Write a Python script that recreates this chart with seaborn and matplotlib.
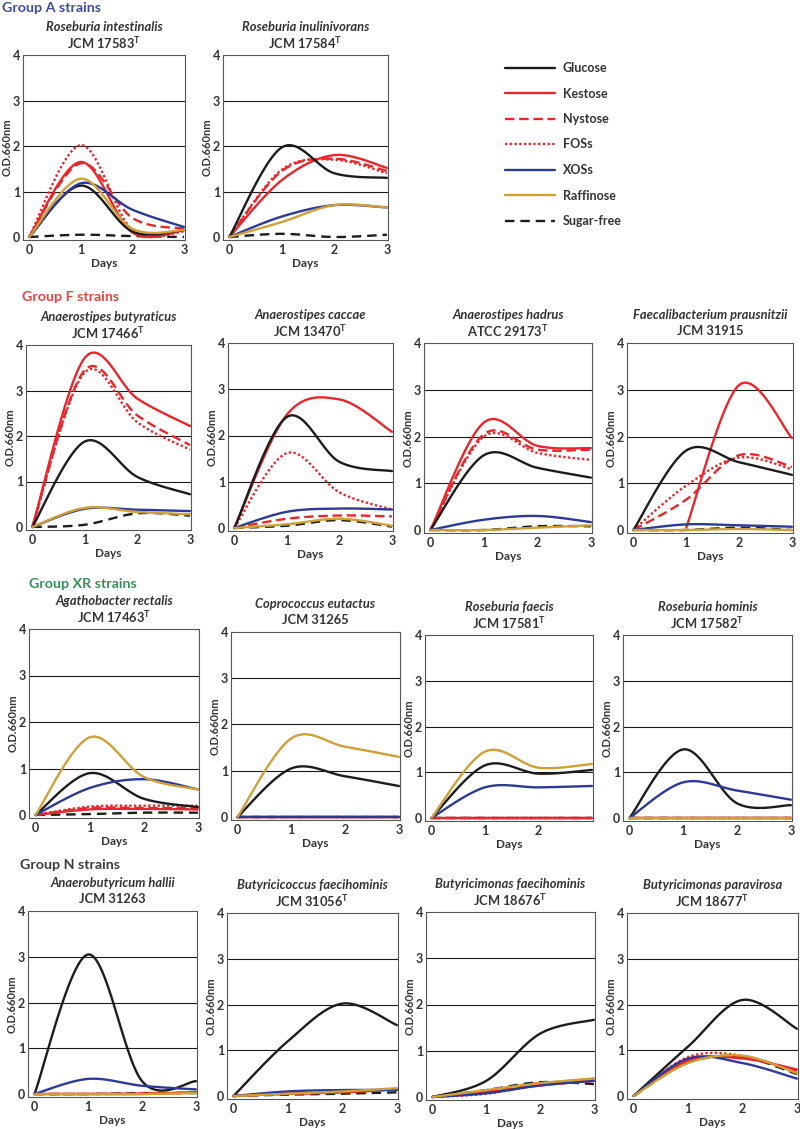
import numpy as np
import pandas as pd
import matplotlib
matplotlib.use("Agg")
import matplotlib.pyplot as plt
import seaborn as sns
from matplotlib.lines import Line2D

# ---------------- data ----------------
DAYS = [0, 1, 2, 3]
SUGARS = ["Glucose", "Kestose", "Nystose", "FOSs", "XOSs", "Raffinose", "Sugar-free"]
DRAW_ORDER = ["Sugar-free", "Kestose", "Nystose", "FOSs", "Glucose", "XOSs", "Raffinose"]
NAN = float("nan")

# Group A
R_INTESTINALIS = {
    "Glucose": [0, 1.13, 0.12, 0.15], "Kestose": [0, 1.65, 0.10, 0.15],
    "Nystose": [0, 1.62, 0.42, 0.18], "FOSs": [0, 2.02, 0.15, 0.12],
    "XOSs": [0, 1.18, 0.60, 0.22], "Raffinose": [0, 1.28, 0.18, 0.15],
    "Sugar-free": [0, 0.05, 0.02, 0.00]}
R_INULINIVORANS = {
    "Glucose": [0, 1.97, 1.40, 1.30], "Kestose": [0, 1.25, 1.80, 1.52],
    "Nystose": [0, 1.45, 1.72, 1.45], "FOSs": [0, 1.48, 1.70, 1.40],
    "XOSs": [0, 0.45, 0.70, 0.65], "Raffinose": [0, 0.33, 0.70, 0.65],
    "Sugar-free": [0, 0.07, 0.00, 0.05]}
# Group F
A_BUTYRATICUS = {
    "Glucose": [0, 1.88, 1.10, 0.72], "Kestose": [0, 3.72, 2.82, 2.22],
    "Nystose": [0, 3.45, 2.45, 1.80], "FOSs": [0, 3.40, 2.30, 1.70],
    "XOSs": [0, 0.40, 0.38, 0.35], "Raffinose": [0, 0.42, 0.33, 0.28],
    "Sugar-free": [0, 0.05, 0.30, 0.25]}
A_CACCAE = {
    "Glucose": [0, 2.40, 1.43, 1.23], "Kestose": [0, 2.45, 2.78, 2.08],
    "Nystose": [0, 0.20, 0.27, 0.25], "FOSs": [0, 1.62, 0.77, 0.40],
    "XOSs": [0, 0.35, 0.42, 0.40], "Raffinose": [0, 0.08, 0.20, 0.05],
    "Sugar-free": [0, 0.05, 0.17, 0.03]}
A_HADRUS = {
    "Glucose": [0, 1.60, 1.33, 1.12], "Kestose": [0, 2.30, 1.80, 1.75],
    "Nystose": [0, 2.05, 1.72, 1.72], "FOSs": [0, 2.00, 1.65, 1.50],
    "XOSs": [0, 0.22, 0.30, 0.17], "Raffinose": [0, 0.00, 0.05, 0.10],
    "Sugar-free": [0, 0.00, 0.08, 0.08]}
F_PRAUSNITZII = {
    "Glucose": [0, 1.70, 1.45, 1.18], "Kestose": [NAN, 0.05, 3.10, 1.97],
    "Nystose": [0, 0.65, 1.60, 1.35], "FOSs": [0, 0.95, 1.55, 1.30],
    "XOSs": [0, 0.12, 0.10, 0.07], "Raffinose": [0, 0.00, 0.02, 0.00],
    "Sugar-free": [0, 0.00, 0.05, 0.00]}
# Group XR
A_RECTALIS = {
    "Glucose": [0, 0.90, 0.35, 0.17], "Kestose": [0, 0.12, 0.13, 0.12],
    "Nystose": [0, 0.15, 0.15, 0.15], "FOSs": [0, 0.18, 0.20, 0.20],
    "XOSs": [0, 0.58, 0.77, 0.55], "Raffinose": [0, 1.67, 0.82, 0.55],
    "Sugar-free": [0, 0.02, 0.05, 0.05]}
C_EUTACTUS = {
    "Glucose": [0, 1.05, 0.88, 0.67], "Kestose": [0, 0, 0, 0],
    "Nystose": [0, 0, 0, 0], "FOSs": [0, 0, 0, 0],
    "XOSs": [0, 0, 0, 0], "Raffinose": [0, 1.70, 1.52, 1.30],
    "Sugar-free": [0, 0, 0, 0]}
R_FAECIS = {
    "Glucose": [0, 1.15, 0.97, 1.05], "Kestose": [0, 0, 0, 0],
    "Nystose": [0, 0, 0, 0], "FOSs": [0, 0, 0, 0],
    "XOSs": [0, 0.67, 0.67, 0.70], "Raffinose": [0, 1.45, 1.10, 1.18],
    "Sugar-free": [0, 0, 0, 0]}
R_HOMINIS = {
    "Glucose": [0, 1.50, 0.32, 0.28], "Kestose": [0, 0, 0, 0],
    "Nystose": [0, 0, 0, 0], "FOSs": [0, 0, 0, 0],
    "XOSs": [0, 0.78, 0.60, 0.40], "Raffinose": [0, 0, 0, 0],
    "Sugar-free": [0, 0, 0, 0]}
# Group N
A_HALLII = {
    "Glucose": [0, 3.05, 0.28, 0.28], "Kestose": [0, 0.00, 0.00, 0.04],
    "Nystose": [0, 0.00, 0.01, 0.03], "FOSs": [0, 0.00, 0.01, 0.03],
    "XOSs": [0, 0.33, 0.18, 0.10], "Raffinose": [0, 0.00, 0.00, 0.02],
    "Sugar-free": [0, 0.00, 0.02, 0.02]}
B_FAECIHOMINIS_C = {
    "Glucose": [0, 1.20, 2.02, 1.55], "Kestose": [0, 0.05, 0.08, 0.15],
    "Nystose": [0, 0.05, 0.08, 0.14], "FOSs": [0, 0.05, 0.09, 0.15],
    "XOSs": [0, 0.10, 0.13, 0.13], "Raffinose": [0, 0.05, 0.10, 0.17],
    "Sugar-free": [0, 0.03, 0.05, 0.08]}
B_FAECIHOMINIS_M = {
    "Glucose": [0, 0.35, 1.37, 1.67], "Kestose": [0, 0.10, 0.25, 0.35],
    "Nystose": [0, 0.12, 0.30, 0.35], "FOSs": [0, 0.07, 0.27, 0.40],
    "XOSs": [0, 0.08, 0.25, 0.35], "Raffinose": [0, 0.15, 0.30, 0.40],
    "Sugar-free": [0, 0.15, 0.32, 0.28]}
B_PARAVIROSA = {
    "Glucose": [0, 1.08, 2.10, 1.47], "Kestose": [0, 0.78, 0.82, 0.58],
    "Nystose": [0, 0.75, 0.85, 0.55], "FOSs": [0, 0.85, 0.88, 0.50],
    "XOSs": [0, 0.82, 0.72, 0.38], "Raffinose": [0, 0.72, 0.88, 0.50],
    "Sugar-free": [0, 0.73, 0.85, 0.48]}

# ---------------- styles ----------------
COLORS = {"Glucose": "#1c1c1c", "Kestose": "#e8262b", "Nystose": "#e8262b",
          "FOSs": "#e8262b", "XOSs": "#2b3a96", "Raffinose": "#cf9f38",
          "Sugar-free": "#1c1c1c"}
LSTYLES = {"Glucose": "-", "Kestose": "-", "Nystose": (0, (4, 2)),
           "FOSs": (0, (1, 1)), "XOSs": "-", "Raffinose": "-",
           "Sugar-free": (0, (4, 2.5))}

GROUPS = [("Group A strains", "#3c4b9e", 2, 8),
          ("Group F strains", "#e4453e", 22, 297),
          ("Group XR strains", "#35905a", 29, 584),
          ("Group N strains", "#3c3c3c", 20, 865)]

# (species, strain, type-strain flag, data, left, right, top, y0, show tick 3)
PANELS = [
    ("Roseburia intestinalis", "JCM 17583", True, R_INTESTINALIS, 23, 185, 55, 237, True),
    ("Roseburia inulinivorans", "JCM 17584", True, R_INULINIVORANS, 223, 388, 55, 237, True),
    ("Anaerostipes butyraticus", "JCM 17466", True, A_BUTYRATICUS, 26, 191, 345, 527, True),
    ("Anaerostipes caccae", "JCM 13470", True, A_CACCAE, 228, 393, 343, 528, True),
    ("Anaerostipes hadrus", "ATCC 29173", True, A_HADRUS, 424, 592, 343, 530, True),
    ("Faecalibacterium prausnitzii", "JCM 31915", False, F_PRAUSNITZII, 627, 793, 343, 530, True),
    ("Agathobacter rectalis", "JCM 17463", True, A_RECTALIS, 29, 199, 629, 815, True),
    ("Coprococcus eutactus", "JCM 31265", False, C_EUTACTUS, 231, 400, 632, 817, True),
    ("Roseburia faecis", "JCM 17581", True, R_FAECIS, 425, 593, 635, 818, False),
    ("Roseburia hominis", "JCM 17582", True, R_HOMINIS, 623, 792, 635, 818, True),
    ("Anaerobutyricum hallii", "JCM 31263", False, A_HALLII, 28, 197, 911, 1094, True),
    ("Butyricicoccus faecihominis", "JCM 31056", True, B_FAECIHOMINIS_C, 227, 398, 913, 1096, True),
    ("Butyricimonas faecihominis", "JCM 18676", True, B_FAECIHOMINIS_M, 426, 595, 912, 1097, True),
    ("Butyricimonas paravirosa", "JCM 18677", True, B_PARAVIROSA, 627, 798, 913, 1096, True),
]


def smooth(x, y, n=30):
    """Excel-like smoothed line (Catmull-Rom Bezier) through the data points."""
    x = np.asarray(x, float)
    y = np.asarray(y, float)
    m = ~np.isnan(y)
    P = np.column_stack([x[m], y[m]])
    ext = np.vstack([P[0], P, P[-1]])
    t = np.linspace(0, 1, n)[:, None]
    segs = []
    for i in range(len(P) - 1):
        p0, p1, p2, p3 = ext[i], ext[i + 1], ext[i + 2], ext[i + 3]
        c1 = p1 + (p2 - p0) / 6
        c2 = p2 - (p3 - p1) / 6
        seg = ((1 - t) ** 3) * p1 + 3 * ((1 - t) ** 2) * t * c1 + 3 * (1 - t) * t ** 2 * c2 + t ** 3 * p2
        segs.append(seg if i == 0 else seg[1:])
    S = np.vstack(segs)
    return S[:, 0], S[:, 1]


# ---------------- figure ----------------
sns.set_theme(style="white")
plt.rcParams["font.family"] = ["Lato", "DejaVu Sans"]
plt.rcParams["font.weight"] = "bold"
plt.rcParams["mathtext.fontset"] = "custom"
plt.rcParams["mathtext.rm"] = "Lato:bold"
plt.rcParams["mathtext.bf"] = "Lato:bold"
plt.rcParams["mathtext.it"] = "Lato:bold:italic"

W, H = 800, 1129
fig = plt.figure(figsize=(W / 100, H / 100), dpi=100)
TXT = "#333333"
YMIN, YMAX = -0.07, 4.0
XMIN, XMAX = -0.12, 3.02

for species, strain, typ, data, left, right, top, y0, show3 in PANELS:
    hpx = (y0 - top) * (YMAX - YMIN) / YMAX
    wpx = right - left
    ax = fig.add_axes([left / W, 1 - (top + hpx) / H, wpx / W, hpx / H])
    for s in DRAW_ORDER:
        xs, ys = smooth(DAYS, data[s])
        df = pd.DataFrame({"Days": xs, "OD": ys})
        sns.lineplot(data=df, x="Days", y="OD", ax=ax, color=COLORS[s],
                     linestyle=LSTYLES[s], lw=1.7, sort=False, estimator=None,
                     legend=False, clip_on=True)
    ax.set_xlim(XMIN, XMAX)
    ax.set_ylim(YMIN, YMAX)
    ax.set_yticks([0, 1, 2, 3, 4])
    ax.set_yticklabels(["0", "1", "2", "3", "4"])
    xt = [0, 1, 2, 3] if show3 else [0, 1, 2]
    ax.set_xticks(xt)
    ax.set_xticklabels([str(v) for v in xt])
    for g in [1, 2, 3]:
        ax.axhline(g, color="#1a1a1a", lw=0.8, zorder=0)
    ax.tick_params(axis="y", length=0, labelsize=9, colors=TXT, pad=2)
    ax.tick_params(axis="x", length=0, labelsize=9, colors=TXT, pad=3)
    for sp in ax.spines.values():
        sp.set_color("#555555")
        sp.set_linewidth(0.8)
    ax.set_xlabel("Days", fontsize=8.5, color=TXT, fontweight="bold")
    ax.set_ylabel("O.D.660nm", fontsize=8, color=TXT, fontweight="bold",
                  va="center")
    ax.xaxis.set_label_coords(0.5, -18 / hpx)
    ax.yaxis.set_label_coords(-16 / wpx, 0.5)
    cx = (left + right) / 2 / W
    fig.text(cx, 1 - (top - 28) / H, species, ha="center", va="center",
             fontsize=9.3, style="italic", fontweight="bold", color=TXT)
    label2 = strain + (r"$^{\mathrm{T}}$" if typ else "")
    fig.text(cx, 1 - (top - 12) / H, label2, ha="center", va="center",
             fontsize=9.3, fontweight="bold", color=TXT)

for name, col, gx, gy in GROUPS:
    fig.text(gx / W, 1 - gy / H, name, ha="left", va="center",
             fontsize=10.3, fontweight="bold", color=col)

handles = [Line2D([0], [0], color=COLORS[s], linestyle=LSTYLES[s], lw=1.7) for s in SUGARS]
leg = fig.legend(handles, SUGARS, loc="upper left",
                 bbox_to_anchor=(505 / W, 1 - 62 / H), frameon=False,
                 fontsize=9, handlelength=4.0, handletextpad=0.6,
                 labelspacing=1.08, borderaxespad=0, borderpad=0)
for t in leg.get_texts():
    t.set_color(TXT)
    t.set_fontweight("bold")

fig.savefig("out.png", dpi=100)
